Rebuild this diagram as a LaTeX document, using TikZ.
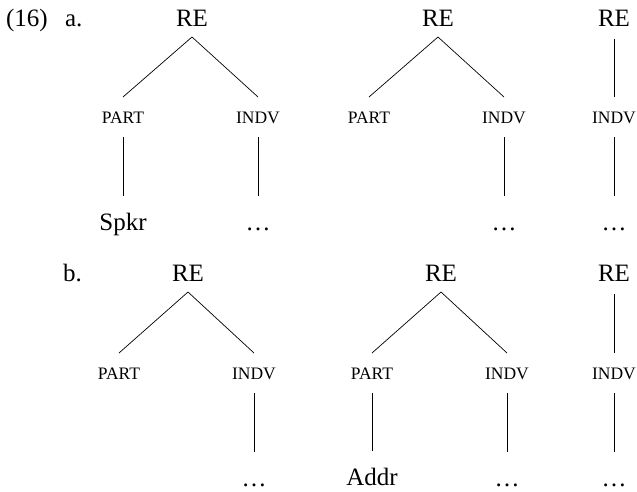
\documentclass[tikz,border=0pt]{standalone}
\usepackage{fontspec}
\setmainfont{Liberation Serif}
\usetikzlibrary{positioning}

\begin{document}
\begin{tikzpicture}[x=1pt,y=-1pt,line width=.7pt,
            big/.style = {inner sep=0pt, outer sep=0pt, anchor=base,
            font=\fontsize{25}{30}\selectfont, text height=34pt, text depth=11pt},
            small/.style = {big, font=\fontsize{17.5}{21}\selectfont,
            text height=26pt, text depth=14pt}]
            \useasboundingbox (0,0) rectangle (637,491);
            \node[big,anchor=base west] (ex) at (6,26) {(16)};
            \node[big,anchor=base west] (ea) at (65,26) {a.};
            \node[big,anchor=base west] (eb) at (63,281) {b.};
            % (a)
            \node[big] (ra1) at (192,26) {RE};
            \node[small] (pa1) at (123,123) {PART};
            \node[small] (ia1) at (258,123) {INDV};
            \node[big] (sa1) at (123,230) {Spkr};
            \node[big] (da1) at (258,230) {…};
            \draw (ra1.south) -- (pa1.north);
            \draw (ra1.south) -- (ia1.north);
            \draw (pa1) -- (sa1);
            \draw (ia1) -- (da1);
            \node[big] (ra2) at (438,26) {RE};
            \node[small] (pa2) at (369,123) {PART};
            \node[small] (ia2) at (504,123) {INDV};
            \node[big] (da2) at (504,230) {…};
            \draw (ra2.south) -- (pa2.north);
            \draw (ra2.south) -- (ia2.north);
            \draw (ia2) -- (da2);
            \node[big] (ra3) at (614,26) {RE};
            \node[small] (ia3) at (614,123) {INDV};
            \node[big] (da3) at (614,230) {…};
            \draw[shorten <=2pt] (ra3) -- (ia3);
            \draw (ia3) -- (da3);
            % (b)
            \node[big] (rb1) at (188,281) {RE};
            \node[small] (pb1) at (119,379) {PART};
            \node[small] (ib1) at (254,379) {INDV};
            \node[big] (db1) at (254,486) {…};
            \draw (rb1.south) -- (pb1.north);
            \draw (rb1.south) -- (ib1.north);
            \draw (ib1) -- (db1);
            \node[big] (rb2) at (441,281) {RE};
            \node[small] (pb2) at (372,379) {PART};
            \node[small] (ib2) at (507,379) {INDV};
            \node[big] (ab2) at (372,485) {Addr};
            \node[big] (db2) at (507,486) {…};
            \draw (rb2.south) -- (pb2.north);
            \draw (rb2.south) -- (ib2.north);
            \draw (pb2) -- (ab2);
            \draw (ib2) -- (db2);
            \node[big] (rb3) at (614,281) {RE};
            \node[small] (ib3) at (614,379) {INDV};
            \node[big] (db3) at (614,486) {…};
            \draw[shorten <=2pt] (rb3) -- (ib3);
            \draw (ib3) -- (db3);
        \end{tikzpicture}
\end{document}
